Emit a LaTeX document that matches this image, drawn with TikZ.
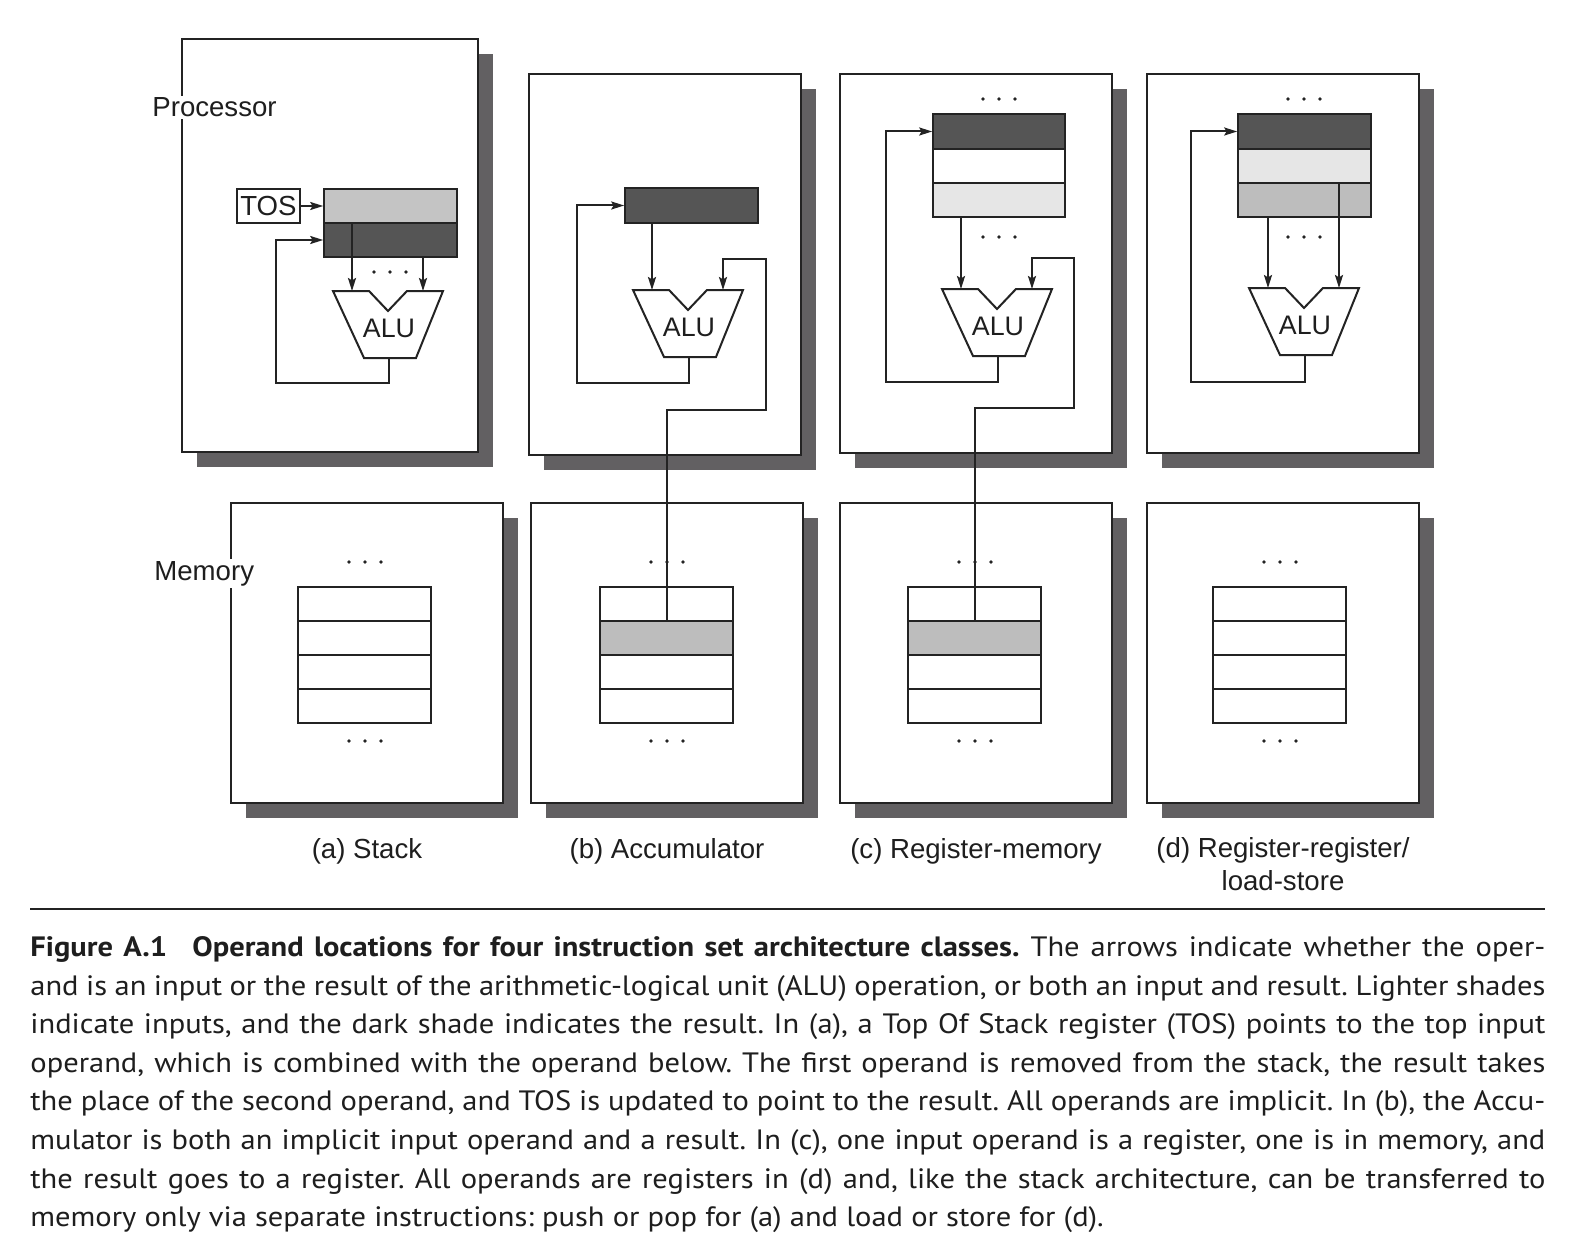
\documentclass[tikz,border=0pt]{standalone}
\usepackage{fontspec}
\setmainfont{PT Sans}[FakeStretch=1.09]
\newfontfamily\labfont{Liberation Sans}
\usetikzlibrary{arrows.meta,fit}

\definecolor{shadowc}{RGB}{98,96,98}
\definecolor{darkreg}{RGB}{85,85,85}
\definecolor{lightA}{RGB}{196,196,196}
\definecolor{midg}{RGB}{189,189,189}
\definecolor{palest}{RGB}{230,230,230}
\definecolor{linec}{RGB}{35,35,35}
\definecolor{textc}{RGB}{30,30,30}

\tikzset{
  panel/.style={draw=linec, line width=1pt, fill=white, inner sep=0pt},
  cell/.style={draw=linec, line width=0.8pt, inner sep=0pt},
  wire/.style={draw=linec, line width=1pt},
  arr/.style={wire, -{Stealth[length=6.5pt,width=4pt,inset=1.2pt]}},
  lbl/.style={font=\labfont\fontsize{13.8pt}{16.5pt}\selectfont, text=textc, inner sep=0pt},
  alulbl/.style={font=\labfont\fontsize{13.4pt}{16pt}\selectfont, text=textc, inner sep=0pt},
}

\newcommand\shadowbox[5]{%
  \fill[shadowc] (#2+15,#3+15) rectangle (#4+15,#5+15);
  \node[panel, fit={(#2,#3) (#4,#5)}] (#1) {};}
\newcommand\cellbox[6]{%
  \node[cell, fill=#6, fit={(#2,#3) (#4,#5)}] (#1) {};}
\newcommand\alu[3]{%
  \draw[draw=linec, line width=1pt, fill=white, line join=miter]
    (#2,#3) -- (#2+36,#3) -- (#2+55,#3+20) -- (#2+74,#3) -- (#2+110,#3)
    -- (#2+83,#3+67) -- (#2+31,#3+67) -- cycle;
  \node[alulbl] (#1) at (#2+56,#3+37) {ALU};
  \coordinate (#1-l) at (#2+19,#3);
  \coordinate (#1-r) at (#2+90,#3);
  \coordinate (#1-o) at (#2+56,#3+67);}
\newcommand\threedots[2]{%
  \foreach \d in {-16,0,16} \fill[linec] (#1+\d,#2) circle (1.8);}
\newcommand\memstack[4]{% prefix, x1, x2, fill of row 2
  \cellbox{#1r1}{#2}{587}{#3}{621}{white}
  \cellbox{#1r2}{#2}{621}{#3}{655}{#4}
  \cellbox{#1r3}{#2}{655}{#3}{689}{white}
  \cellbox{#1r4}{#2}{689}{#3}{723}{white}}

\begin{document}
\begin{tikzpicture}[x=0.5pt,y=-0.5pt]
\useasboundingbox (0,0) rectangle (1570,1252);
\fill[white] (0,0) rectangle (1570,1252);

% ---------------- Processor (a) Stack
\shadowbox{pa}{182}{39}{478}{452}
\node[lbl, anchor=base west, fill=white, inner sep=1pt] (proclab) at (150,117) {Processor};
\node[lbl, draw=linec, line width=0.8pt, minimum width=31.5pt, minimum height=17pt] (tos) at (268.5,206) {TOS};
\cellbox{ra1}{324}{189}{457}{223}{lightA}
\cellbox{ra2}{324}{223}{457}{257}{darkreg}
\draw[arr] (tos.east) -- (ra1.west);
\alu{alua}{333}{291}
\draw[arr] (alua-l |- ra2.north) -- (alua-l);
\draw[arr] (alua-r |- ra2.south) -- (alua-r);
\threedots{390}{272}
\coordinate (fa) at (276,383);
\draw[arr] (alua-o) |- (fa) |- (ra2.west);

% ---------------- Processor (b) Accumulator
\shadowbox{pb}{529}{74}{801}{455}
\cellbox{rb}{625}{188}{758}{223}{darkreg}
\alu{alub}{633}{290}
\draw[arr] (alub-l |- rb.south) -- (alub-l);
\coordinate (fb) at (577,383);
\draw[arr] (alub-o) |- (fb) |- (rb.west);

% ---------------- Processor (c) Register-memory
\shadowbox{pc}{840}{74}{1112}{453}
\cellbox{rc1}{933}{114}{1065}{149}{darkreg}
\cellbox{rc2}{933}{149}{1065}{183}{white}
\cellbox{rc3}{933}{183}{1065}{217}{palest}
\threedots{999}{99}
\threedots{999}{237}
\alu{aluc}{942}{289}
\draw[arr] (aluc-l |- rc3.south) -- (aluc-l);
\coordinate (fc) at (886,382);
\draw[arr] (aluc-o) |- (fc) |- (rc1.west);

% ---------------- Processor (d) Register-register
\shadowbox{pd}{1147}{74}{1419}{453}
\cellbox{rd1}{1238}{114}{1371}{149}{darkreg}
\cellbox{rd2}{1238}{149}{1371}{183}{palest}
\cellbox{rd3}{1238}{183}{1371}{217}{midg}
\threedots{1304}{99}
\threedots{1304}{237}
\alu{alud}{1249}{288}
\draw[arr] (alud-l |- rd3.south) -- (alud-l);
\draw[arr] (alud-r |- rd3.north) -- (alud-r);
\coordinate (fd) at (1191,382);
\draw[arr] (alud-o) |- (fd) |- (rd1.west);

% ---------------- Memory
\shadowbox{ma}{231}{503}{503}{803}
\shadowbox{mb}{531}{503}{803}{803}
\shadowbox{mc}{840}{503}{1112}{803}
\shadowbox{md}{1147}{503}{1419}{803}
\node[lbl, anchor=base west, fill=white, inner sep=1pt] (memlab) at (152,580) {Memory};

\memstack{ma}{298}{431}{white}
\memstack{mb}{600}{733}{midg}
\memstack{mc}{908}{1041}{midg}
\memstack{md}{1213}{1346}{white}
\threedots{365}{562}  \threedots{365}{741}
\threedots{667}{562}  \threedots{667}{741}
\threedots{975}{562}  \threedots{975}{741}
\threedots{1280}{562} \threedots{1280}{741}

% memory links
\coordinate (kb1) at (766,410);
\coordinate (kb2) at (766,259);
\draw[arr] (mbr2.north) |- (kb1) -- (kb2) -| (alub-r);
\coordinate (kc1) at (1074,408);
\coordinate (kc2) at (1074,258);
\draw[arr] (mcr2.north) |- (kc1) -- (kc2) -| (aluc-r);

% ---------------- sub-captions
\node[lbl, anchor=base] (capa) at (367,858) {(a) Stack};
\node[lbl, anchor=base] (capb) at (667,858) {(b) Accumulator};
\node[lbl, anchor=base] (capc) at (976,858) {(c) Register-memory};
\node[lbl, anchor=north, align=center] (capd) at (1283,837.5) {(d) Register-register/\\load-store};

% ---------------- rule and caption
\draw[line width=1pt, draw=linec] (30,909) -- (1545,909);
\node[anchor=north west, inner sep=0pt, align=left, text=textc,
      font=\frenchspacing\fontsize{14pt}{19.3pt}\selectfont] (figcap) at (30,936) {%
\hbox to 757.5pt{\textbf{Figure A.1\hspace{0.9em}Operand locations for four instruction set architecture classes.} The arrows indicate whether the oper-}\\
\hbox to 757.5pt{and is an input or the result of the arithmetic-logical unit (ALU) operation, or both an input and result. Lighter shades}\\
\hbox to 757.5pt{indicate inputs, and the dark shade indicates the result. In (a), a Top Of Stack register (TOS) points to the top input}\\
\hbox to 757.5pt{operand, which is combined with the operand below. The first operand is removed from the stack, the result takes}\\
\hbox to 757.5pt{the place of the second operand, and TOS is updated to point to the result. All operands are implicit. In (b), the Accu-}\\
\hbox to 757.5pt{mulator is both an implicit input operand and a result. In (c), one input operand is a register, one is in memory, and}\\
\hbox to 757.5pt{the result goes to a register. All operands are registers in (d) and, like the stack architecture, can be transferred to}\\
memory only via separate instructions: push or pop for (a) and load or store for (d).};
\end{tikzpicture}
\end{document}
